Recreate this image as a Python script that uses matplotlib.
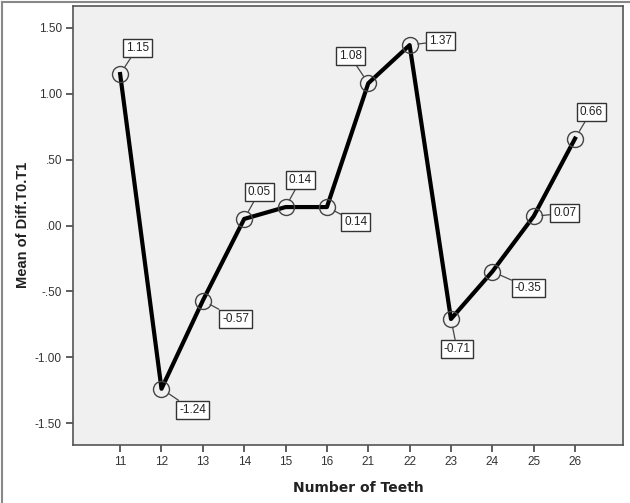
import matplotlib.pyplot as plt
from matplotlib.lines import Line2D

# Dati
teeth = ["11", "12", "13", "14", "15", "16", "21", "22", "23", "24", "25", "26"]
mean_diff = [1.15, -1.24, -0.57, 0.05, 0.14, 0.14, 1.08, 1.37, -0.71, -0.35, 0.07, 0.66]
point_labels = ["1.15", "-1.24", "-0.57", "0.05", "0.14", "0.14", "1.08", "1.37", "-0.71", "-0.35", "0.07", "0.66"]
y_ticks = [-1.5, -1.0, -0.5, 0.0, 0.5, 1.0, 1.5]
y_tick_labels = ["-1.50", "-1.00", "-.50", ".00", ".50", "1.00", "1.50"]

# Posizione delle etichette (pixel rispetto al punto)
label_offsets = [(17, 26), (31, -21), (33, -18), (15, 27), (15, 27), (29, -15),
                 (-18, 27), (31, 4), (6, -30), (36, -16), (31, 3), (16, 27)]

plt.rcParams['font.family'] = ['Liberation Sans', 'DejaVu Sans']

fig = plt.figure(figsize=(6.3, 5.03), dpi=100)
ax = fig.add_axes([73 / 630, 58 / 503, 550 / 630, 439 / 503])
ax.set_facecolor('#f0f0f0')

x = list(range(len(teeth)))
ax.plot(x, mean_diff, color='black', linewidth=3, zorder=3)
ax.plot(x, mean_diff, linestyle='none', marker='o', markersize=11.5,
        markerfacecolor='none', markeredgecolor='#444444', markeredgewidth=1, zorder=4)

for xi, yi, txt, off in zip(x, mean_diff, point_labels, label_offsets):
    ax.annotate(txt, xy=(xi, yi), xytext=off, textcoords='offset pixels',
                ha='center', va='center', fontsize=8.5, color='#222222', zorder=5,
                bbox=dict(boxstyle='square,pad=0.25', facecolor='white', edgecolor='#333333', linewidth=1),
                arrowprops=dict(arrowstyle='-', color='#444444', linewidth=0.9, shrinkA=0, shrinkB=6))

ax.set_xlim(-1.14, 12.16)
ax.set_ylim(-1.667, 1.667)
ax.set_xticks(x)
ax.set_xticklabels(teeth)
ax.set_yticks(y_ticks)
ax.set_yticklabels(y_tick_labels)
ax.tick_params(direction='out', length=5, width=1.2, color='#444444', labelsize=8.5,
               labelcolor='#333333', pad=3)

for side in ['left', 'bottom', 'top', 'right']:
    ax.spines[side].set_color('#555555')
    ax.spines[side].set_linewidth(1.2)

# Titoli degli assi posizionati a mano
fig.text(358 / 630, 1 - 488 / 503, 'Number of Teeth', fontsize=10, fontweight='bold',
         family='DejaVu Sans', color='#222222', ha='center', va='center')
fig.text(23 / 630, 1 - 225 / 503, 'Mean of Diff.T0.T1', fontsize=10.5, fontweight='bold',
         color='#222222', ha='center', va='center', rotation=90)

# Bordo esterno grigio (sinistra e in alto)
fig.add_artist(Line2D([1.5 / 630, 1.5 / 630], [0, 1 - 1.5 / 503], transform=fig.transFigure,
                      color='#888888', linewidth=1.5))
fig.add_artist(Line2D([1.5 / 630, 1], [1 - 1.5 / 503, 1 - 1.5 / 503], transform=fig.transFigure,
                      color='#888888', linewidth=1.5))

plt.savefig('out.png', dpi=100)
plt.close()
